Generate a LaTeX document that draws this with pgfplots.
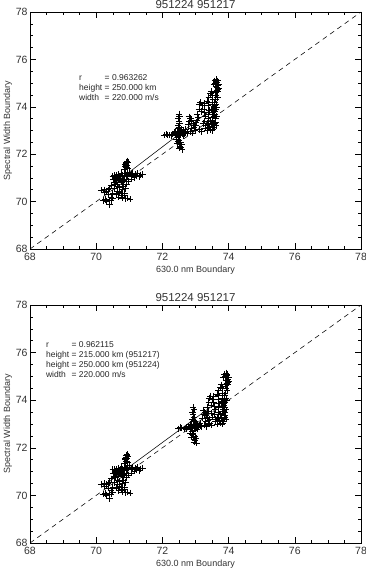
\documentclass[border=0pt]{standalone}
\usepackage{pgfplots}
\usepackage{pgfplotstable}
\pgfplotsset{compat=1.18}
\usepackage{fontspec}
\setmainfont{Liberation Sans}

% 951224 boundary pairs (630.0 nm boundary, spectral width boundary)
\pgfplotstableread{
x y
70.15 70.48
70.25 70.50
70.30 70.45
70.35 70.30
70.28 70.08
70.20 70.05
70.30 70.02
70.38 70.05
70.40 69.87
70.45 70.20
70.50 70.35
70.55 70.55
70.58 70.75
70.52 70.95
70.50 71.08
70.55 71.10
70.62 71.05
70.68 71.00
70.72 70.95
70.75 70.85
70.70 70.60
70.65 70.45
70.60 70.30
70.68 70.20
70.75 70.35
70.80 70.50
70.82 70.65
70.78 70.80
70.85 70.95
70.90 71.05
70.88 71.20
70.85 71.35
70.88 71.50
70.90 71.62
70.93 71.72
70.96 71.65
70.92 71.55
70.95 71.40
71.00 71.25
71.05 71.15
71.10 71.12
71.18 71.15
71.25 71.18
71.32 71.12
71.40 71.15
71.30 71.05
71.15 71.02
71.05 70.95
70.98 70.85
70.92 70.75
70.88 70.55
70.85 70.35
70.80 70.20
70.88 70.12
70.95 70.15
71.02 70.10
70.75 70.25
70.65 70.65
70.60 70.88
70.68 71.15
70.75 71.20
70.80 71.05
70.72 71.08
70.62 70.98
70.55 70.80
70.45 70.70
70.40 70.55
70.50 70.15
70.90 71.10
70.95 71.08
70.85 71.12
70.70 71.05
70.58 71.02
70.92 71.68
70.87 71.58
70.62 71.10
70.70 70.98
70.78 71.12
70.82 70.90
70.66 70.90
70.56 70.98
70.95 71.18
71.10 71.20
71.20 71.08
70.92 71.45
70.35 70.50
70.25 70.40
70.45 70.05
70.70 70.40
70.80 70.15
70.86 70.25
}\daytwentyfour

% 951217 boundary pairs, emission height 250 km
\pgfplotstableread{
x y
72.05 72.80
72.15 72.82
72.22 72.80
72.30 72.85
72.38 72.88
72.45 72.90
72.50 72.92
72.55 72.88
72.60 72.92
72.68 72.95
72.75 72.90
72.50 73.70
72.52 73.60
72.48 73.50
72.50 73.40
72.52 73.30
72.48 73.20
72.50 73.10
72.55 73.00
72.52 72.80
72.48 72.70
72.50 72.60
72.55 72.50
72.58 72.40
72.55 72.30
72.60 72.20
72.52 72.25
72.45 72.45
72.42 72.62
72.60 72.85
72.62 73.00
72.58 72.95
72.45 72.95
72.40 72.98
72.35 72.92
72.52 72.90
72.55 72.95
72.48 72.88
72.70 73.05
72.78 73.25
72.82 73.40
72.85 73.50
72.80 73.58
72.88 73.45
72.92 73.30
72.95 73.15
72.98 73.00
72.90 72.90
72.85 72.95
73.00 73.20
73.05 73.45
72.55 72.85
72.50 72.95
72.45 72.85
72.58 73.05
72.52 73.15
72.48 72.55
72.53 72.35
72.62 72.78
72.40 72.80
72.65 72.88
72.70 72.92
72.28 72.78
72.12 72.85
72.88 73.10
73.05 73.70
73.10 73.90
73.12 74.10
73.15 74.18
73.20 74.05
73.25 73.90
73.30 73.60
73.28 73.40
73.22 73.30
73.30 73.20
73.35 73.30
73.38 73.50
73.40 73.70
73.42 73.85
73.38 74.05
73.35 74.25
73.40 74.40
73.45 74.55
73.48 74.65
73.50 74.50
73.52 74.30
73.50 74.10
73.48 73.90
73.52 73.75
73.55 73.60
73.52 73.45
73.48 73.30
73.50 73.15
73.52 73.05
73.55 73.12
73.58 73.30
73.60 73.50
73.58 73.70
73.60 73.90
73.62 74.10
73.60 74.30
73.62 74.50
73.65 74.70
73.62 74.85
73.60 75.00
73.62 75.15
73.65 75.05
73.68 74.90
73.70 74.80
73.68 74.75
73.65 74.82
73.63 74.95
73.58 75.10
73.55 74.95
73.42 73.15
73.45 73.05
73.35 73.00
73.30 73.10
73.18 72.95
73.12 73.05
73.40 74.20
73.55 73.85
73.58 74.05
73.62 73.20
73.60 73.35
73.63 73.60
73.57 73.80
73.64 74.00
73.58 74.20
73.66 74.40
73.60 74.60
73.67 74.65
73.70 74.95
73.66 75.10
73.55 73.95
73.50 73.55
73.45 73.40
73.40 73.25
73.56 73.20
73.50 73.00
73.28 73.75
73.25 74.15
73.18 73.80
73.08 73.55
73.02 73.35
}\dayseventeenhigh

% 951217 boundary pairs, emission height 215 km
\pgfplotstableread{
x y
72.48 72.80
72.58 72.82
72.65 72.80
72.73 72.85
72.81 72.88
72.88 72.90
72.93 72.92
72.98 72.88
73.03 72.92
73.11 72.95
73.18 72.90
72.93 73.70
72.95 73.60
72.91 73.50
72.93 73.40
72.95 73.30
72.91 73.20
72.93 73.10
72.98 73.00
72.95 72.80
72.91 72.70
72.93 72.60
72.98 72.50
73.01 72.40
72.98 72.30
73.03 72.20
72.95 72.25
72.88 72.45
72.85 72.62
73.03 72.85
73.05 73.00
73.01 72.95
72.88 72.95
72.83 72.98
72.78 72.92
72.95 72.90
72.98 72.95
72.91 72.88
73.13 73.05
73.21 73.25
73.25 73.40
73.28 73.50
73.23 73.58
73.31 73.45
73.35 73.30
73.38 73.15
73.41 73.00
73.33 72.90
73.28 72.95
73.43 73.20
73.48 73.45
72.98 72.85
72.93 72.95
72.88 72.85
73.01 73.05
72.95 73.15
72.91 72.55
72.96 72.35
73.05 72.78
72.83 72.80
73.08 72.88
73.13 72.92
72.71 72.78
72.55 72.85
73.31 73.10
73.35 73.70
73.40 73.90
73.42 74.10
73.45 74.18
73.50 74.05
73.55 73.90
73.60 73.60
73.58 73.40
73.52 73.30
73.60 73.20
73.65 73.30
73.68 73.50
73.70 73.70
73.72 73.85
73.68 74.05
73.65 74.25
73.70 74.40
73.75 74.55
73.78 74.65
73.80 74.50
73.82 74.30
73.80 74.10
73.78 73.90
73.82 73.75
73.85 73.60
73.82 73.45
73.78 73.30
73.80 73.15
73.82 73.05
73.85 73.12
73.88 73.30
73.90 73.50
73.88 73.70
73.90 73.90
73.92 74.10
73.90 74.30
73.92 74.50
73.95 74.70
73.92 74.85
73.90 75.00
73.92 75.15
73.95 75.05
73.98 74.90
74.00 74.80
73.98 74.75
73.95 74.82
73.93 74.95
73.88 75.10
73.85 74.95
73.72 73.15
73.75 73.05
73.65 73.00
73.60 73.10
73.48 72.95
73.42 73.05
73.70 74.20
73.85 73.85
73.88 74.05
73.92 73.20
73.90 73.35
73.93 73.60
73.87 73.80
73.94 74.00
73.88 74.20
73.96 74.40
73.90 74.60
73.97 74.65
74.00 74.95
73.96 75.10
73.85 73.95
73.80 73.55
73.75 73.40
73.70 73.25
73.86 73.20
73.80 73.00
73.58 73.75
73.55 74.15
73.48 73.80
73.38 73.55
73.32 73.35
}\dayseventeenlow

\pgfplotsset{
  boundaryaxis/.style={
    anchor=south west,
    width=331pt, height=237pt, scale only axis,
    xmin=68, xmax=78, ymin=68, ymax=78,
    xtick={68,70,...,78}, ytick={68,70,...,78},
    minor tick num=3,
    tick align=inside,
    xtick pos=both, ytick pos=both,
    major tick length=6pt, minor tick length=3pt,
    every tick/.style={black, line width=0.5pt},
    axis line style={line width=0.6pt},
    tick label style={font=\fontsize{10.5}{12}\selectfont, text=black!80},
    /pgf/number format/assume math mode=true,
    xticklabel style={yshift=-1pt},
    yticklabel style={xshift=1pt},
    xlabel={630.0 nm Boundary},
    ylabel={Spectral Width Boundary},
    label style={font=\fontsize{9}{11}\selectfont, text=black!80},
    xlabel style={yshift=2pt},
    ylabel style={yshift=-3pt},
    title={951224 951217},
    title style={font=\fontsize{11.5}{13}\selectfont, text=black!80, yshift=-6.5pt},
    clip=true,
  },
  bmarks/.style={only marks, mark=+, mark size=3.2pt, black,
    mark options={line width=0.55pt}},
}

\newcommand{\annot}[1]{\fontsize{8.5}{9.8}\selectfont\color{black!85}%
  \begin{tabular}{@{}l@{\ }l@{}}#1\end{tabular}}

\begin{document}
\begin{tikzpicture}[x=1pt, y=1pt]
\useasboundingbox (0pt,0pt) rectangle (366pt,570pt);

% upper panel: both nights at 250 km
\begin{axis}[boundaryaxis, at={(30pt,321pt)}]
  \addplot[black, dashed, dash pattern=on 5pt off 4pt, line width=0.55pt]
    coordinates {(68,68) (78,78)};
  \addplot[bmarks] table {\daytwentyfour};
  \addplot[bmarks] table {\dayseventeenhigh};
  \addplot[black, line width=0.55pt] coordinates {(70.17,70.36) (73.54,73.95)};
  \node[anchor=north west, inner sep=0pt, align=left] at (rel axis cs:0.148,0.74)
    {\annot{r & = 0.963262\\ height & = 250.000 km\\ width & = 220.000 m/s}};
\end{axis}

% lower panel: 951217 at 215 km
\begin{axis}[boundaryaxis, at={(30pt,27pt)}, height=238pt]
  \addplot[black, dashed, dash pattern=on 5pt off 4pt, line width=0.55pt]
    coordinates {(68,68) (78,78)};
  \addplot[bmarks] table {\daytwentyfour};
  \addplot[bmarks] table {\dayseventeenlow};
  \addplot[black, line width=0.55pt] coordinates {(70.15,70.33) (73.62,73.88)};
  \node[anchor=north west, inner sep=0pt, align=left] at (rel axis cs:0.048,0.85)
    {\annot{r & = 0.962115\\ height & = 215.000 km (951217)\\
      height & = 250.000 km (951224)\\ width & = 220.000 m/s}};
\end{axis}
\end{tikzpicture}
\end{document}
